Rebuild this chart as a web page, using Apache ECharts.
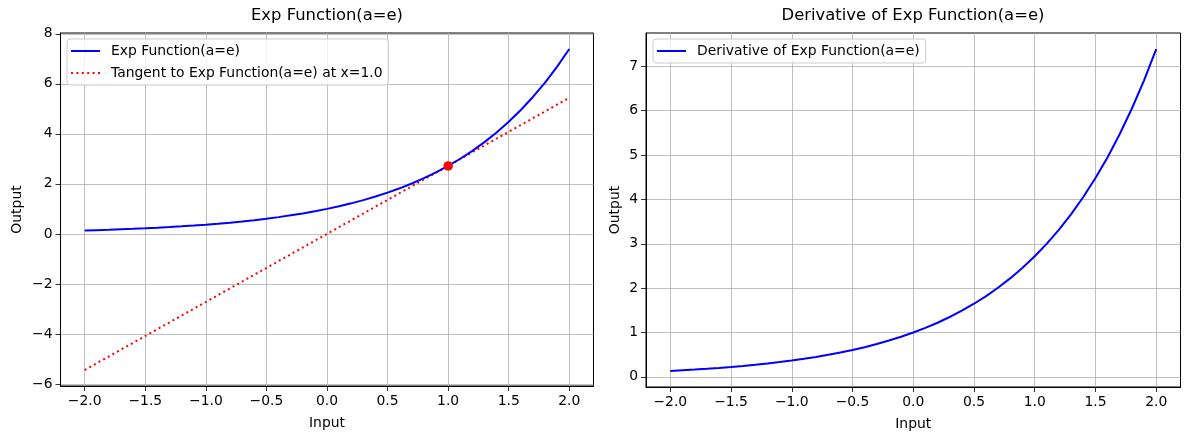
<!DOCTYPE html>
<html><head><meta charset="utf-8">
<script src="https://cdn.jsdelivr.net/npm/echarts@6/dist/echarts.min.js"></script>
<style>html,body{margin:0;padding:0;background:#fff}#c{width:1189px;height:440px}</style>
</head><body><div id="c"></div>
<script>
// ---- data ----
const xValues = [-2.0,-1.9,-1.8,-1.7,-1.6,-1.5,-1.4,-1.3,-1.2,-1.1,-1.0,-0.9,-0.8,-0.7,-0.6,-0.5,-0.4,-0.3,-0.2,-0.1,
  0.0,0.1,0.2,0.3,0.4,0.5,0.6,0.7,0.8,0.9,1.0,1.1,1.2,1.3,1.4,1.5,1.6,1.7,1.8,1.9,2.0];
const expValues = [0.135,0.150,0.165,0.183,0.202,0.223,0.247,0.273,0.301,0.333,0.368,0.407,0.449,0.497,0.549,0.607,0.670,0.741,0.819,0.905,
  1.000,1.105,1.221,1.350,1.492,1.649,1.822,2.014,2.226,2.460,2.718,3.004,3.320,3.669,4.055,4.482,4.953,5.474,6.050,6.686,7.389];
const derivValues = [0.135,0.150,0.165,0.183,0.202,0.223,0.247,0.273,0.301,0.333,0.368,0.407,0.449,0.497,0.549,0.607,0.670,0.741,0.819,0.905,
  1.000,1.105,1.221,1.350,1.492,1.649,1.822,2.014,2.226,2.460,2.718,3.004,3.320,3.669,4.055,4.482,4.953,5.474,6.050,6.686,7.389];
const tangentX = [-2.0, 2.0];
const tangentY = [-5.44, 5.44];
const tangentPoint = [1.0, 2.718];
const xTicks = [-2.0,-1.5,-1.0,-0.5,0.0,0.5,1.0,1.5,2.0];
const yTicksLeft = [-6,-4,-2,0,2,4,6,8];
const yTicksRight = [0,1,2,3,4,5,6,7];
const titles = ['Exp Function(a=e)', 'Derivative of Exp Function(a=e)'];
const seriesNames = ['Exp Function(a=e)', 'Tangent to Exp Function(a=e) at x=1.0', 'Derivative of Exp Function(a=e)'];

// ---- chart ----
const FONT = 'DejaVu Sans';
const fmtX = v => (v < 0 ? '\u2212' : '') + Math.abs(v).toFixed(1);
const fmtY = v => (v < 0 ? '\u2212' : '') + Math.abs(Math.round(v));
const gridLine = { show: true, lineStyle: { color: '#b0b0b0', width: 0.8 } };
const DOT_ICON = 'path://M0,0h2v2h-2z M5.4,0h2v2h-2z M10.8,0h2v2h-2z M16.2,0h2v2h-2z M21.6,0h2v2h-2z M27,0h2v2h-2z';

function xAxis(gi) {
  return {
    type: 'value', gridIndex: gi, min: -2.2, max: 2.2,
    name: 'Input', nameLocation: 'middle', nameGap: 30,
    nameTextStyle: { color: '#000', fontFamily: FONT, fontSize: 13.9 },
    axisLine: { show: true, onZero: false, lineStyle: { color: '#000', width: 1 } },
    axisTick: { show: true, length: 5, lineStyle: { color: '#000', width: 0.8 }, customValues: xTicks },
    axisLabel: { color: '#000', fontFamily: FONT, fontSize: 13.9, margin: 8, formatter: fmtX, customValues: xTicks },
    splitLine: gridLine
  };
}
function yAxis(gi, min, max, ticks, gap) {
  return {
    type: 'value', gridIndex: gi, min: min, max: max,
    name: 'Output', nameLocation: 'middle', nameGap: gap, nameRotate: 90,
    nameTextStyle: { color: '#000', fontFamily: FONT, fontSize: 13.9 },
    axisLine: { show: true, onZero: false, lineStyle: { color: '#000', width: 1 } },
    axisTick: { show: true, length: 5, lineStyle: { color: '#000', width: 0.8 }, customValues: ticks },
    axisLabel: { color: '#000', fontFamily: FONT, fontSize: 13.9, margin: 8, formatter: fmtY, customValues: ticks },
    splitLine: gridLine
  };
}
const legendBase = {
  orient: 'vertical', itemWidth: 29, itemHeight: 2, itemGap: 8,
  backgroundColor: 'rgba(255,255,255,0.8)', borderColor: '#cccccc', borderWidth: 1, borderRadius: 3,
  padding: [5, 6, 5, 4],
  textStyle: { color: '#000', fontFamily: FONT, fontSize: 13.9, height: 14, lineHeight: 14, padding: [0, 0, 0, 6] }
};

const chart = echarts.init(document.getElementById('c'), null, { renderer: 'canvas' });
chart.setOption({
  animation: false,
  backgroundColor: '#fff',
  title: [
    { text: titles[0], left: 327, top: 8, textAlign: 'center', padding: 0,
      textStyle: { color: '#000', fontFamily: FONT, fontSize: 16.4, fontWeight: 'normal' } },
    { text: titles[1], left: 913, top: 8, textAlign: 'center', padding: 0,
      textStyle: { color: '#000', fontFamily: FONT, fontSize: 16.4, fontWeight: 'normal' } }
  ],
  legend: [
    Object.assign({}, legendBase, { left: 67, top: 39,
      data: [{ name: seriesNames[0], icon: 'rect' }, { name: seriesNames[1], icon: DOT_ICON }] }),
    Object.assign({}, legendBase, { left: 653, top: 39,
      data: [{ name: seriesNames[2], icon: 'rect' }] })
  ],
  grid: [
    { left: 60.5, top: 33, width: 533, height: 353, show: true, borderColor: '#000', borderWidth: 1, backgroundColor: 'transparent' },
    { left: 646, top: 33, width: 534.5, height: 354, show: true, borderColor: '#000', borderWidth: 1, backgroundColor: 'transparent' }
  ],
  xAxis: [xAxis(0), xAxis(1)],
  yAxis: [yAxis(0, -6.08, 8.03, yTicksLeft, 36), yAxis(1, -0.228, 7.752, yTicksRight, 24)],
  series: [
    { name: seriesNames[0], type: 'line', xAxisIndex: 0, yAxisIndex: 0, showSymbol: false, symbol: 'none',
      data: xValues.map((x, i) => [x, expValues[i]]),
      lineStyle: { color: '#0000ff', width: 2 }, itemStyle: { color: '#0000ff' }, z: 3 },
    { name: seriesNames[1], type: 'line', xAxisIndex: 0, yAxisIndex: 0, showSymbol: false, symbol: 'none',
      data: tangentX.map((x, i) => [x, tangentY[i]]),
      lineStyle: { color: '#ff0000', width: 2, type: [2, 3.3] }, itemStyle: { color: '#ff0000' }, z: 2 },
    { name: 'point', type: 'scatter', xAxisIndex: 0, yAxisIndex: 0, symbolSize: 9.5,
      data: [tangentPoint], itemStyle: { color: '#ff0000', opacity: 1 }, z: 4 },
    { name: seriesNames[2], type: 'line', xAxisIndex: 1, yAxisIndex: 1, showSymbol: false, symbol: 'none',
      data: xValues.map((x, i) => [x, derivValues[i]]),
      lineStyle: { color: '#0000ff', width: 2 }, itemStyle: { color: '#0000ff' }, z: 3 }
  ]
});
</script>
</body></html>
